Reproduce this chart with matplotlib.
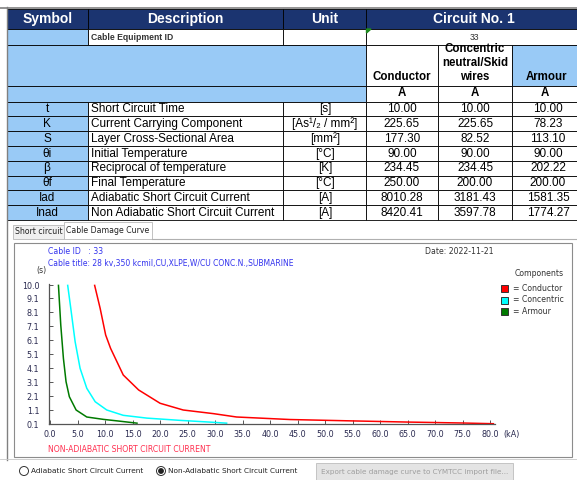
import matplotlib
matplotlib.use("Agg")
import matplotlib.pyplot as plt
from matplotlib.patches import Rectangle, Circle

# table data
symbols = ["t", "K", "S", "θi", "β", "θf", "Iad", "Inad"]
descriptions = ["Short Circuit Time", "Current Carrying Component",
                "Layer Cross-Sectional Area", "Initial Temperature",
                "Reciprocal of temperature", "Final Temperature",
                "Adiabatic Short Circuit Current",
                "Non Adiabatic Short Circuit Current"]
units = ["[s]", "[As¹/₂ / mm²]", "[mm²]", "[°C]", "[K]", "[°C]", "[A]", "[A]"]
conductor_vals = [10.00, 225.65, 177.30, 90.00, 234.45, 250.00, 8010.28, 8420.41]
concentric_vals = [10.00, 225.65, 82.52, 90.00, 234.45, 200.00, 3181.43, 3597.78]
armour_vals = [10.00, 78.23, 113.10, 90.00, 202.22, 200.00, 1581.35, 1774.27]

# damage curves (kA, s)
cond_ka = [8.1, 9.1, 10.1, 11.0, 13.3, 16.1, 20.0, 24.2, 29.7, 33.9, 43.6, 53.9, 64.8, 75.1, 80.6]
cond_t = [10.0, 8.36, 6.46, 5.5, 3.6, 2.53, 1.58, 1.1, 0.84, 0.6, 0.42, 0.33, 0.24, 0.17, 0.12]
conc_ka = [3.2, 3.76, 4.55, 5.45, 6.67, 8.2, 10.3, 13.3, 17.6, 23.6, 29.7, 32.1]
conc_t = [10.0, 8.36, 5.98, 4.08, 2.65, 1.69, 1.1, 0.72, 0.52, 0.36, 0.22, 0.16]
arm_ka = [1.52, 1.94, 2.42, 2.9, 3.5, 4.73, 6.67, 9.7, 12.7, 15.8]
arm_t = [10.0, 7.17, 4.79, 3.12, 2.05, 1.1, 0.6, 0.43, 0.3, 0.16]

x_ticks = [0, 5, 10, 15, 20, 25, 30, 35, 40, 45, 50, 55, 60, 65, 70, 75, 80]
y_ticks = [0.1, 1.1, 2.1, 3.1, 4.1, 5.1, 6.1, 7.1, 8.1, 9.1, 10.0]

W, H = 577, 480
NAVY = "#1B3470"
LBLUE = "#99CAF6"
FONT = ["Liberation Sans", "DejaVu Sans"]
UI = ["DejaVu Sans"]

fig = plt.figure(figsize=(W / 100, H / 100), dpi=100)
bg = fig.add_axes([0, 0, 1, 1])
bg.set_xlim(0, W)
bg.set_ylim(H, 0)
bg.axis("off")


def cell(x0, y0, x1, y1, fc, ec="black", lw=0.6):
    bg.add_patch(Rectangle((x0, y0), x1 - x0, y1 - y0, facecolor=fc,
                           edgecolor=ec, linewidth=lw))


def txt(x, y, s, size=8.5, ha="center", va="center", color="black",
        weight="normal", family=FONT):
    bg.text(x, y, s, fontsize=size, ha=ha, va=va, color=color,
            fontweight=weight, family=family)


# columns
cx = [7, 88, 283, 366, 438, 512, 580]

bg.plot([0, W], [7.5, 7.5], color="#808080", lw=1.2)
bg.plot([6.5, 6.5], [7, 460], color="#808080", lw=1.0)

# header
for i, lab in enumerate(["Symbol", "Description", "Unit"]):
    cell(cx[i], 9, cx[i + 1], 28.5, NAVY)
    txt((cx[i] + cx[i + 1]) / 2, 19, lab, size=10, color="white", weight="bold")
cell(cx[3], 9, cx[6], 28.5, NAVY)
txt(474, 19, "Circuit No. 1", size=10, color="white", weight="bold")

# cable equipment id row
cell(cx[0], 28.5, cx[1], 44.5, LBLUE)
cell(cx[1], 28.5, cx[2], 44.5, "white")
cell(cx[2], 28.5, cx[3], 44.5, "white")
cell(cx[3], 28.5, cx[6], 44.5, "white")
txt(91, 37, "Cable Equipment ID", size=6.2, ha="left", color="#333333", weight="bold")
txt(474, 37, "33", size=6.2, color="#333333")
bg.add_patch(plt.Polygon([[366.5, 29], [371, 29], [366.5, 33]], color="#1E8A1E"))

# component header row
cell(cx[0], 44.5, cx[3], 85.5, LBLUE)
cell(cx[3], 44.5, cx[4], 85.5, "white")
cell(cx[4], 44.5, cx[5], 85.5, "white")
cell(cx[5], 44.5, cx[6], 85.5, LBLUE)
txt(402, 77, "Conductor", size=8.3, weight="bold")
txt(475, 49.5, "Concentric", size=8.3, weight="bold")
txt(475, 63, "neutral/Skid", size=8.3, weight="bold")
txt(475, 77, "wires", size=8.3, weight="bold")
txt(546, 77, "Armour", size=8.3, weight="bold")

# unit row
cell(cx[0], 85.5, cx[3], 101.5, LBLUE)
for i in range(3, 6):
    cell(cx[i], 85.5, cx[i + 1], 101.5, "white")
    txt((cx[i] + cx[i + 1]) / 2 + (-1 if i == 5 else 0), 93.5, "A", size=8.3, weight="bold")

# data rows
rh = 14.8
for r in range(len(symbols)):
    y0 = 101.5 + r * rh
    y1 = y0 + rh
    yc = (y0 + y1) / 2 + 0.3
    cell(cx[0], y0, cx[1], y1, LBLUE)
    for i in range(1, 6):
        cell(cx[i], y0, cx[i + 1], y1, "white")
    txt(47, yc, symbols[r])
    txt(91, yc, descriptions[r], ha="left")
    txt(325, yc, units[r])
    txt(402, yc, f"{conductor_vals[r]:.2f}")
    txt(475, yc, f"{concentric_vals[r]:.2f}")
    txt(548, yc, f"{armour_vals[r]:.2f}")

# tabs and panel
bg.plot([152, W], [238.5, 238.5], color="#B0B0B0", lw=0.8)
cell(13, 225, 64, 238.5, "#F0F0F0", ec="#B8B8B8", lw=0.6)
cell(64, 222, 152, 239, "white", ec="#B8B8B8", lw=0.6)
txt(38.5, 232, "Short circuit", size=5.6, color="#222222", family=UI)
txt(108, 230.5, "Cable Damage Curve", size=5.6, color="#222222", family=UI)
cell(14, 243, 572, 457, "white", ec="#8C8C8C", lw=0.8)
bg.plot([0, W], [458.5, 458.5], color="#C8C8C8", lw=0.6)

# chart texts
BLUE = "#3333EE"
txt(48, 252, "Cable ID   : 33", size=5.6, ha="left", color=BLUE, family=UI)
txt(48, 263.5, "Cable title: 28 kv,350 kcmil,CU,XLPE,W/CU CONC.N.,SUBMARINE",
    size=5.5, ha="left", color=BLUE, family=UI)
txt(425, 252, "Date: 2022-11-21", size=5.6, ha="left", color="#333333", family=UI)
txt(41, 271, "(s)", size=5.6, color="#333333", family=UI)
txt(48, 449, "NON-ADIABATIC SHORT CIRCUIT CURRENT", size=5.6, ha="left",
    color="#FF3050", family=UI)
txt(503, 434, "(kA)", size=5.8, ha="left", color="#2A2A50", family=UI)

# legend
txt(539, 273, "Components", size=5.6, color="#333333", family=UI)
for k, (c, lab) in enumerate([("#FF0000", "= Conductor"), ("#00FFFF", "= Concentric"),
                              ("#007A00", "= Armour")]):
    yy = 288.5 + k * 11.5
    bg.add_patch(Rectangle((501, yy - 3.5), 7, 7, facecolor=c, edgecolor="#333333", lw=0.7))
    txt(513, yy, lab, size=5.6, ha="left", color="#333333", family=UI)

# radio buttons + export button
bg.add_patch(Circle((24, 471), 4.5, facecolor="white", edgecolor="#333333", lw=0.7))
bg.add_patch(Circle((161, 471), 4.5, facecolor="white", edgecolor="#333333", lw=0.7))
bg.add_patch(Circle((161, 471), 2.2, color="#222222"))
txt(31, 471, "Adiabatic Short Circuit Current", size=5.3, ha="left", color="#222222", family=UI)
txt(168, 471, "Non-Adiabatic Short Circuit Current", size=5.3, ha="left", color="#222222", family=UI)
cell(316, 463, 513, 481, "#E4E4E4", ec="#C4C4C4", lw=0.7)
txt(321, 472, "Export cable damage curve to CYMTCC import file...", size=5.2,
    ha="left", color="#9E9E9E", family=UI)

# damage curve chart
ax = fig.add_axes([49 / W, (H - 424) / H, 445.5 / W, 140 / H])
ax.set_facecolor("none")
ax.plot(cond_ka, cond_t, color="#FF0000", lw=1.1)
ax.plot(conc_ka, conc_t, color="#00FFFF", lw=1.1)
ax.plot(arm_ka, arm_t, color="#007A00", lw=1.1)
ax.set_xlim(-0.2, 80.8)
ax.set_ylim(0.1, 10.1)
for s in ["top", "right"]:
    ax.spines[s].set_visible(False)
for s in ["left", "bottom"]:
    ax.spines[s].set_color("#555555")
    ax.spines[s].set_linewidth(0.9)
ax.set_xticks(x_ticks)
ax.set_xticklabels([f"{v:.1f}" for v in x_ticks])
ax.set_yticks(y_ticks)
ax.set_yticklabels([f"{v:.1f}" for v in y_ticks])
ax.tick_params(direction="in", length=3, width=0.7, colors="#555555",
               labelsize=5.8, labelcolor="#2A2A50", pad=4)
ax.tick_params(axis="y", pad=7)
for lab in ax.get_xticklabels() + ax.get_yticklabels():
    lab.set_family(UI)

fig.savefig("out.png", dpi=100)
